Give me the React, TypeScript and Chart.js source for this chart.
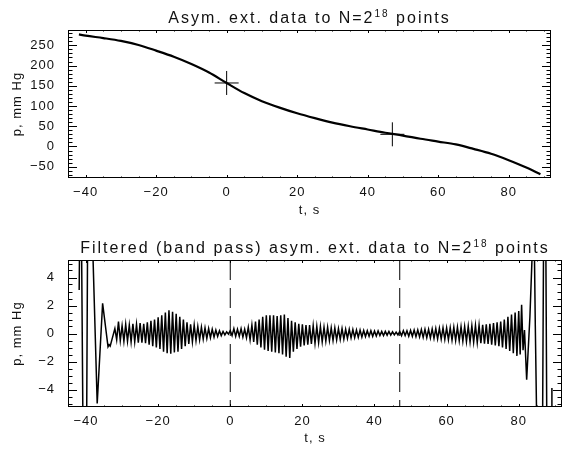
import React, { useEffect, useRef } from "react";
import { Chart, registerables } from "chart.js";

Chart.register(...registerables);

// ---------------- data ----------------
const X_MIN = -45;
const X_MAX = 92;

// top panel: smooth pressure curve
const TOP_T = [-41.9, -40, -35, -30, -25, -20, -15, -10, -5, 0, 5, 10, 15, 20, 25, 30, 35, 40, 45, 50, 55, 60, 65, 70, 75, 80, 85, 89];
const TOP_P = [277, 274, 268, 261, 251, 237, 222, 204, 183, 157, 132, 112, 96, 82, 70, 59, 50, 42, 34, 27, 19, 12, 5, -6, -18, -34, -52, -69];
const MARK_T = [0, 47];
const MARK_P = [157, 30];
const TOP_Y_MIN = -78;
const TOP_Y_MAX = 288;

// bottom panel: band-pass filtered signal
const BOT_Y_MIN = -5.25;
const BOT_Y_MAX = 5.25;
const LEFT_T = [-41.9, -41.5, -40.6, -40.0, -39.4, -38.8, -36.9, -35.4, -33.9, -33.6, -33.3];
const LEFT_P = [3.1, 15, -15, -15, 15, 12, -5.0, 2.15, -0.95, -0.8, -0.9];
const OSC_START = -32;
const OSC_PERIOD = 1.0;
const OSC_PEAKS = [
  0.35, 0.85, 0.55, 0.65, 0.6, 0.7, 0.65, 0.75, 0.7, 0.8, 0.9, 1.0, 1.15, 1.3, 1.5, 1.65, 1.55, 1.4, 1.2, 1.0, 0.8, 0.65, 0.6, 0.5, 0.45, 0.4, 0.35, 0.3, 0.25, 0.2, 0.15, 0.12,
  0.2, 0.35, 0.3, 0.35, 0.3, 0.45, 0.6, 0.85, 1.0, 1.2,
  1.3, 1.3, 1.3, 1.25, 1.3, 1.35, 1.1, 0.9, 0.8, 0.7,
  0.65, 0.6, 0.6, 0.55, 0.5, 0.5, 0.45, 0.45, 0.4, 0.4,
  0.35, 0.35, 0.3, 0.3, 0.28, 0.25, 0.25, 0.22, 0.2, 0.2,
  0.18, 0.18, 0.15, 0.15, 0.15, 0.12, 0.1, 0.15, 0.2, 0.2,
  0.22, 0.25, 0.25, 0.28, 0.3, 0.3, 0.33, 0.35, 0.38, 0.4,
  0.4, 0.42, 0.45, 0.45, 0.48, 0.5, 0.52, 0.55, 0.58, 0.6,
  0.62, 0.65, 0.7, 0.75, 0.8, 0.85, 1.0, 1.2, 1.35, 1.5,
  1.6,
];
const OSC_TROUGHS = [
  -0.45, -0.5, -0.55, -0.55, -0.6, -0.6, -0.65, -0.65, -0.7, -0.8, -0.9, -1.0, -1.1, -1.3, -1.4, -1.45, -1.35, -1.3, -1.1, -0.9, -0.75, -0.6, -0.5, -0.45, -0.4, -0.35, -0.3, -0.25, -0.2, -0.15, -0.1, -0.05,
  -0.15, -0.2, -0.2, -0.25, -0.3, -0.45, -0.6, -0.8, -1.0, -1.15,
  -1.25, -1.3, -1.35, -1.4, -1.5, -1.65, -1.75, -1.3, -1.1, -0.95,
  -0.85, -0.8, -0.75, -0.7, -0.65, -0.6, -0.55, -0.5, -0.5, -0.45,
  -0.42, -0.4, -0.35, -0.32, -0.3, -0.28, -0.25, -0.22, -0.2, -0.2,
  -0.18, -0.15, -0.15, -0.12, -0.12, -0.1, -0.1, -0.15, -0.15, -0.2,
  -0.2, -0.22, -0.25, -0.28, -0.3, -0.32, -0.35, -0.38, -0.4, -0.42,
  -0.45, -0.48, -0.5, -0.52, -0.55, -0.58, -0.6, -0.62, -0.65, -0.7,
  -0.72, -0.75, -0.8, -0.85, -0.9, -1.0, -1.1, -1.25, -1.4, -1.6,
];
const RIGHT_T = [80.4, 80.8, 81.2, 81.6, 82.2, 83.1, 84.2, 84.6, 85.3, 86.5, 87.0, 87.4, 87.9, 89.0, 89.2];
const RIGHT_P = [-1.5, 2.05, -1.2, 0.25, -3.3, 1.2, 9, 0.5, -12, -12, 12, 12, -12, -12, -3.9];
const DASH_T = [0, 47];

const TITLE_TOP = ["Asym. ext. data to N=2", "18", " points"];
const TITLE_BOT = ["Filtered (band pass) asym. ext. data to N=2", "18", " points"];
const X_LABEL = "t, s";
const Y_LABEL = "p, mm Hg";

// ---------------- styling helpers ----------------
const FONT = "'Liberation Sans', Arial, Helvetica, sans-serif";
const TXT = "#111";

const fmt = (v: any) => {
  const n = Math.round(Number(v) * 1000) / 1000;
  return String(n).replace("-", "\u2212");
};

const spacingPlugin = {
  id: "spacing",
  beforeLayout(chart: any) {
    chart.ctx.letterSpacing = "1px";
  },
  beforeDraw(chart: any) {
    chart.ctx.letterSpacing = "1px";
  },
};

const boxPlugin = {
  id: "idlBox",
  afterDraw(chart: any, _a: any, o: any) {
    const { ctx, chartArea: a } = chart;
    const xs = chart.scales.x;
    const ys = chart.scales.y;
    ctx.save();
    ctx.strokeStyle = "#000";
    ctx.lineWidth = 1;
    ctx.strokeRect(a.left + 0.5, a.top + 0.5, a.right - a.left - 1, a.bottom - a.top - 1);
    ctx.beginPath();
    const rx = Math.round(o.xMajor / o.xMinor);
    for (let n = Math.ceil(xs.min / o.xMinor); n <= Math.floor(xs.max / o.xMinor); n++) {
      const len = n % rx === 0 ? o.xLen : o.xLen / 2;
      const px = Math.round(xs.getPixelForValue(n * o.xMinor)) + 0.5;
      ctx.moveTo(px, a.bottom);
      ctx.lineTo(px, a.bottom - len);
      ctx.moveTo(px, a.top);
      ctx.lineTo(px, a.top + len);
    }
    const ry = Math.round(o.yMajor / o.yMinor);
    for (let n = Math.ceil(ys.min / o.yMinor - 1e-9); n <= Math.floor(ys.max / o.yMinor + 1e-9); n++) {
      const len = n % ry === 0 ? o.yLen : o.yLen / 2;
      const py = Math.round(ys.getPixelForValue(n * o.yMinor)) + 0.5;
      ctx.moveTo(a.left, py);
      ctx.lineTo(a.left + len, py);
      ctx.moveTo(a.right, py);
      ctx.lineTo(a.right - len, py);
    }
    ctx.stroke();
    ctx.restore();
  },
};

const titlePlugin = {
  id: "supTitle",
  afterDraw(chart: any, _a: any, o: any) {
    const { ctx, chartArea: a } = chart;
    const parts: string[] = o.parts;
    ctx.save();
    ctx.fillStyle = TXT;
    ctx.letterSpacing = o.spacing + "px";
    ctx.textBaseline = "alphabetic";
    ctx.textAlign = "left";
    const fonts = parts.map((_, i) => `${i === 1 ? o.supSize : o.size}px ${FONT}`);
    const widths = parts.map((p, i) => {
      ctx.font = fonts[i];
      return ctx.measureText(p).width;
    });
    const total = widths.reduce((s, w) => s + w, 0);
    let x = (a.left + a.right) / 2 - total / 2;
    const y = a.top - o.gap;
    parts.forEach((p, i) => {
      ctx.font = fonts[i];
      ctx.fillText(p, x, i === 1 ? y - o.supRise : y);
      x += widths[i];
    });
    ctx.restore();
  },
};

function buildOptions(p: {
  yMin: number; yMax: number; yStep: number; yMinor: number;
  padTop: number; xHeight: number; xTitlePad: number; title: string[];
}) {
  const tickFont = { family: FONT, size: 13 };
  return {
    animation: false,
    responsive: false,
    maintainAspectRatio: false,
    events: [],
    layout: { padding: { top: p.padTop, right: 2, left: 0, bottom: 0 } },
    plugins: {
      legend: { display: false },
      tooltip: { enabled: false },
      title: { display: false },
      idlBox: { xMajor: 20, xMinor: 5, yMajor: p.yStep, yMinor: p.yMinor, xLen: 3, yLen: 9 },
      supTitle: { parts: p.title, size: 16, supSize: 10, supRise: 6, spacing: 2, gap: 7 },
    },
    scales: {
      x: {
        type: "linear",
        min: X_MIN,
        max: X_MAX,
        afterFit(s: any) { s.height = p.xHeight; },
        grid: { display: false, drawTicks: false },
        border: { display: false },
        ticks: {
          stepSize: 20, includeBounds: false, autoSkip: false, maxRotation: 0,
          padding: 7, color: TXT, font: tickFont, callback: fmt,
        },
        title: {
          display: true, text: X_LABEL, color: TXT, font: { family: FONT, size: 13 },
          padding: { top: 0, bottom: p.xTitlePad },
        },
      },
      y: {
        type: "linear",
        min: p.yMin,
        max: p.yMax,
        afterFit(s: any) { s.width = 68; },
        grid: { display: false, drawTicks: false },
        border: { display: false },
        ticks: {
          stepSize: p.yStep, includeBounds: false, autoSkip: false,
          padding: 13, color: TXT, font: tickFont, callback: fmt,
        },
        title: {
          display: true, text: Y_LABEL, color: TXT, font: { family: FONT, size: 13 },
          padding: { top: 10, bottom: 0 },
        },
      },
    },
  } as any;
}

function topConfig(): any {
  const curve = TOP_T.map((t, i) => ({ x: t, y: TOP_P[i] }));
  const marks = MARK_T.map((t, i) => ({ x: t, y: MARK_P[i] }));
  return {
    type: "line",
    data: {
      datasets: [
        {
          data: curve, borderColor: "#000", borderWidth: 2.2, pointRadius: 0,
          cubicInterpolationMode: "monotone", fill: false,
        },
        {
          data: marks, showLine: false, pointStyle: "cross", pointRadius: 12,
          pointBorderWidth: 1, pointBorderColor: "#000", borderColor: "#000",
        },
      ],
    },
    options: buildOptions({
      yMin: TOP_Y_MIN, yMax: TOP_Y_MAX, yStep: 50, yMinor: 10,
      padTop: 30, xHeight: 47, xTitlePad: 7, title: TITLE_TOP,
    }),
    plugins: [spacingPlugin, boxPlugin, titlePlugin],
  };
}

function bottomConfig(): any {
  const pts: { x: number; y: number }[] = [];
  LEFT_T.forEach((t, i) => pts.push({ x: t, y: LEFT_P[i] }));
  OSC_PEAKS.forEach((v, i) => {
    pts.push({ x: OSC_START + i * OSC_PERIOD, y: v });
    if (i < OSC_TROUGHS.length) pts.push({ x: OSC_START + (i + 0.5) * OSC_PERIOD, y: OSC_TROUGHS[i] });
  });
  RIGHT_T.forEach((t, i) => pts.push({ x: t, y: RIGHT_P[i] }));
  const dashSets = DASH_T.map((t) => ({
    data: [{ x: t, y: BOT_Y_MAX }, { x: t, y: BOT_Y_MIN }],
    borderColor: "#000", borderWidth: 1, borderDash: [20, 8], pointRadius: 0, fill: false,
  }));
  return {
    type: "line",
    data: {
      datasets: [
        ...dashSets,
        { data: pts, borderColor: "#000", borderWidth: 1.5, pointRadius: 0, tension: 0, fill: false },
      ],
    },
    options: buildOptions({
      yMin: BOT_Y_MIN, yMax: BOT_Y_MAX, yStep: 2, yMinor: 0.5,
      padTop: 35, xHeight: 43, xTitlePad: 4, title: TITLE_BOT,
    }),
    plugins: [spacingPlugin, boxPlugin, titlePlugin],
  };
}

export default function App() {
  const topRef = useRef<HTMLCanvasElement | null>(null);
  const botRef = useRef<HTMLCanvasElement | null>(null);

  useEffect(() => {
    const c1 = new Chart(topRef.current as HTMLCanvasElement, topConfig());
    const c2 = new Chart(botRef.current as HTMLCanvasElement, bottomConfig());
    return () => {
      c1.destroy();
      c2.destroy();
    };
  }, []);

  return (
    <div style={{ position: "fixed", left: 0, top: 0, width: 564, height: 450, background: "#fff" }}>
      <canvas ref={topRef} width={564} height={225} style={{ position: "absolute", left: 0, top: 0, width: 564, height: 225 }} />
      <canvas ref={botRef} width={564} height={225} style={{ position: "absolute", left: 0, top: 225, width: 564, height: 225 }} />
    </div>
  );
}
